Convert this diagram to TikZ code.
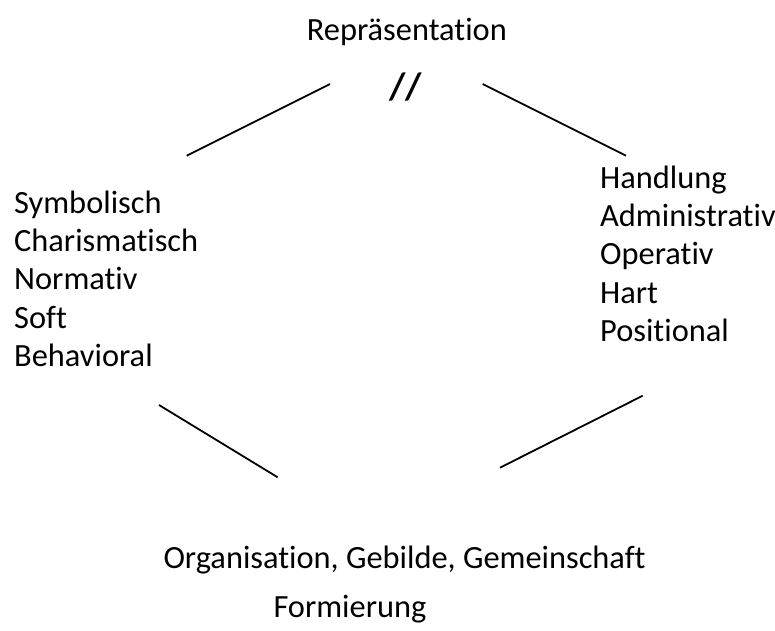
\documentclass[tikz,border=0pt]{standalone}
\usepackage{fontspec}
\setmainfont[Ligatures={NoCommon}]{Carlito}
\usepackage{tikz}

\tikzset{
  lbl/.style={anchor=base west, inner sep=0pt, font=\fontsize{32.4}{38.3}\selectfont},
  strich/.style={line width=1.8pt}
}

\begin{document}
\begin{tikzpicture}[x=1pt,y=-1pt]
      \useasboundingbox (0,0) rectangle (775,630);

      \node[lbl] (repr) at (306.7,40) {Repräsentation};
      \node[lbl, font=\fontsize{38}{40}\selectfont\bfseries] (slash) at (389,99) {//};

      \foreach \w [count=\i] in {Symbolisch,Charismatisch,Normativ,Soft,Behavioral}
        \node[lbl] (links\i) at (14,{213.3+38.3*(\i-1)}) {\w};
      \foreach \w [count=\i] in {Handlung,Administrativ,Operativ,Hart,Positional}
        \node[lbl] (rechts\i) at (600,{188.3+38.3*(\i-1)}) {\w};

      \node[lbl] (org) at (163.3,568.3) {Organisation, Gebilde, Gemeinschaft};
      \node[lbl] (form) at (273.3,617.3) {Formierung};

      \coordinate (A) at (186.7,155.7);
      \coordinate (B) at (330,84);
      \coordinate (C) at (482.7,84);
      \coordinate (D) at (626,155.7);
      \coordinate (E) at (159,405);
      \coordinate (F) at (277.7,477.3);
      \coordinate (G) at (500,467.7);
      \coordinate (H) at (642.7,395.7);

      \draw[strich] (A) -- (B);
      \draw[strich] (C) -- (D);
      \draw[strich] (E) -- (F);
      \draw[strich] (G) -- (H);
\end{tikzpicture}
\end{document}
